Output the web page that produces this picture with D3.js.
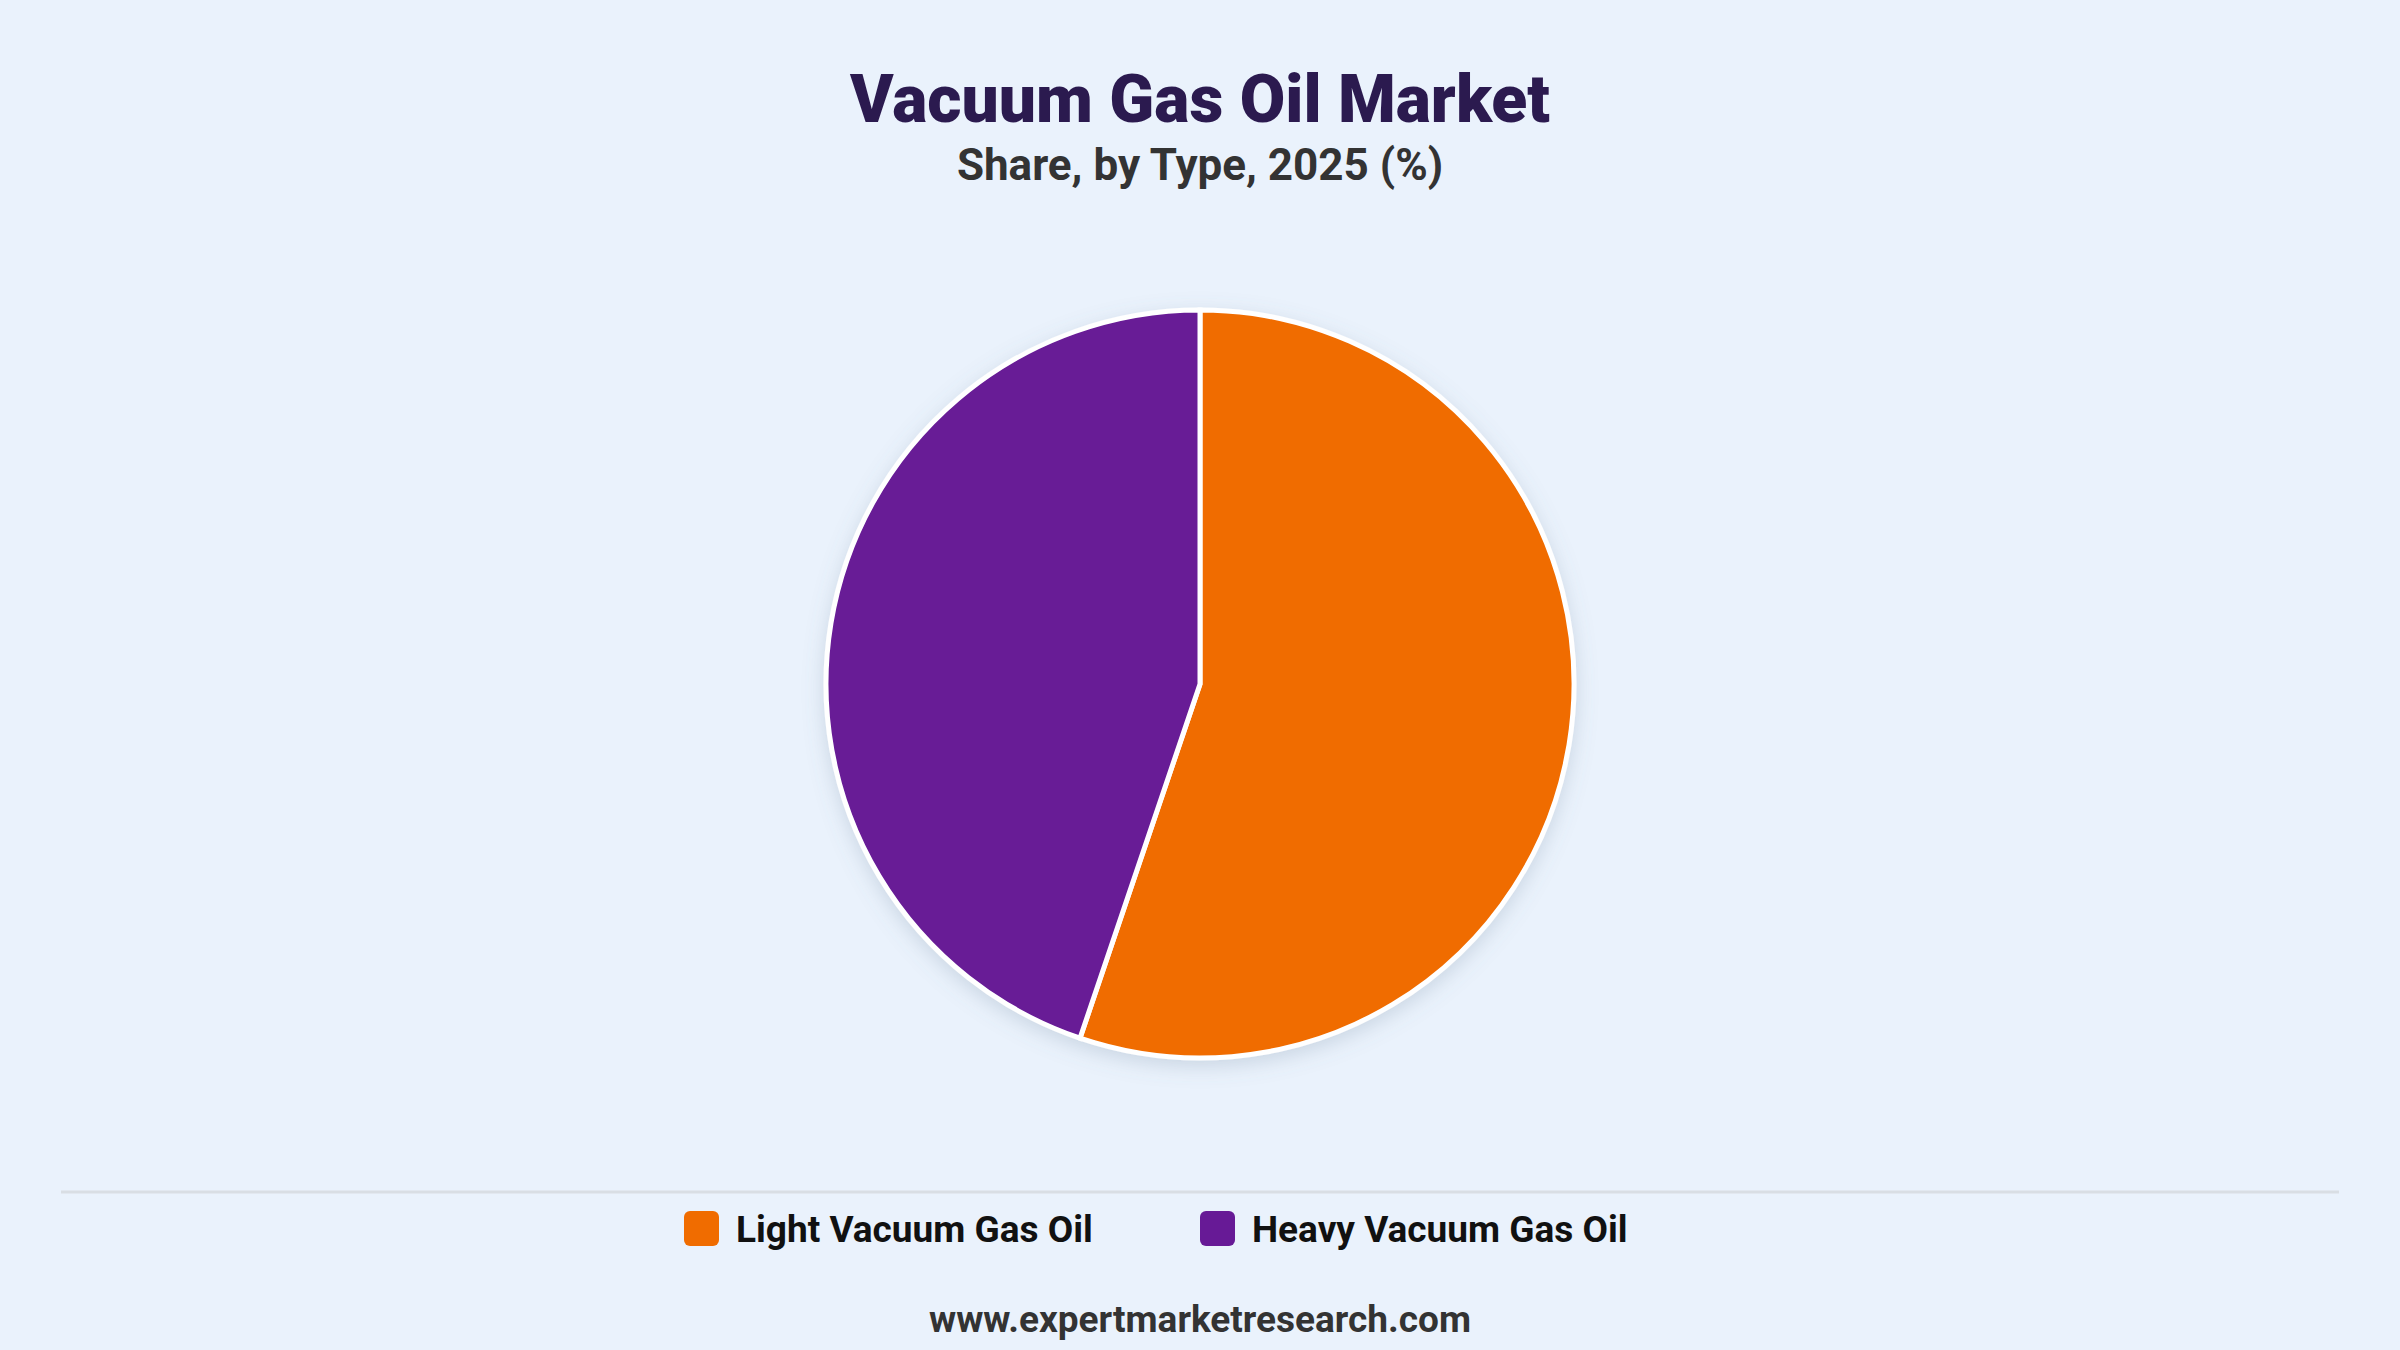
<!DOCTYPE html>
<html lang="en">
<head>
    <meta charset="UTF-8">
    <title>Vacuum Gas Oil Market</title>
    <script src="https://d3js.org/d3.v7.min.js"></script>
    <style>
        body, html {
            margin: 0;
            padding: 0;
            overflow: hidden;
            width: 100%;
            height: 100%;
            background: #eaf2fc;
        }
        svg {
            display: block;
            width: 2400px;
            height: 1350px;
            background: #eaf2fc;
            font-family: Roboto, "Noto Sans", sans-serif;
        }
        .slice {
            stroke: #ffffff;
            stroke-width: 5px;
        }
    </style>
</head>
<body>
    <svg></svg>

    <script>
        const categories = ["Light Vacuum Gas Oil", "Heavy Vacuum Gas Oil"];
        const shares = [55.2, 44.8];
        const colors = ["#f06c00", "#671a96"];

        const width = 2400;
        const height = 1350;
        const svg = d3.select("svg")
            .attr("viewBox", [0, 0, width, height]);

        // soft shadow under the pie
        const defs = svg.append("defs");
        const shadow = defs.append("filter")
            .attr("id", "shadow")
            .attr("x", "-20%").attr("y", "-20%")
            .attr("width", "140%").attr("height", "140%");
        shadow.append("feDropShadow")
            .attr("dx", 0).attr("dy", 6)
            .attr("stdDeviation", 10)
            .attr("flood-color", "#6a7f99")
            .attr("flood-opacity", 0.25);

        // titles
        svg.append("text")
            .attr("x", width / 2)
            .attr("y", 122)
            .attr("text-anchor", "middle")
            .attr("font-size", 66)
            .attr("font-weight", 900)
            .attr("fill", "#2b1a4f")
            .text("Vacuum Gas Oil Market");

        svg.append("text")
            .attr("x", width / 2)
            .attr("y", 180)
            .attr("text-anchor", "middle")
            .attr("font-size", 44)
            .attr("font-weight", 700)
            .attr("fill", "#333333")
            .text("Share, by Type, 2025 (%)");

        // pie
        const data = categories.map((c, i) => ({ name: c, value: shares[i], color: colors[i] }));
        const pie = d3.pie().sort(null).value(d => d.value);
        const arc = d3.arc().innerRadius(0).outerRadius(374);

        const g = svg.append("g")
            .attr("transform", `translate(${width / 2},684)`)
            .attr("filter", "url(#shadow)");

        g.selectAll("path")
            .data(pie(data))
            .join("path")
            .attr("class", "slice")
            .attr("d", arc)
            .attr("fill", d => d.data.color);

        // divider
        svg.append("line")
            .attr("x1", 61).attr("x2", 2339)
            .attr("y1", 1192).attr("y2", 1192)
            .attr("stroke", "#d9dee4")
            .attr("stroke-width", 3);

        // legend: second entry starts at the centre line
        const legend = svg.append("g")
            .attr("transform", "translate(684,1229)");
        const items = legend.selectAll("g")
            .data(data)
            .join("g")
            .attr("transform", (d, i) => `translate(${i * 516},0)`);

        items.append("rect")
            .attr("width", 35).attr("height", 35)
            .attr("rx", 6)
            .attr("y", -18)
            .attr("fill", d => d.color);

        items.append("text")
            .attr("x", 52)
            .attr("y", 13)
            .attr("font-size", 37)
            .attr("font-weight", 700)
            .attr("fill", "#111111")
            .text(d => d.name);

        // footer
        svg.append("text")
            .attr("x", width / 2)
            .attr("y", 1332)
            .attr("text-anchor", "middle")
            .attr("font-size", 37)
            .attr("font-weight", 700)
            .attr("fill", "#333333")
            .text("www.expertmarketresearch.com");
    </script>
</body>
</html>
